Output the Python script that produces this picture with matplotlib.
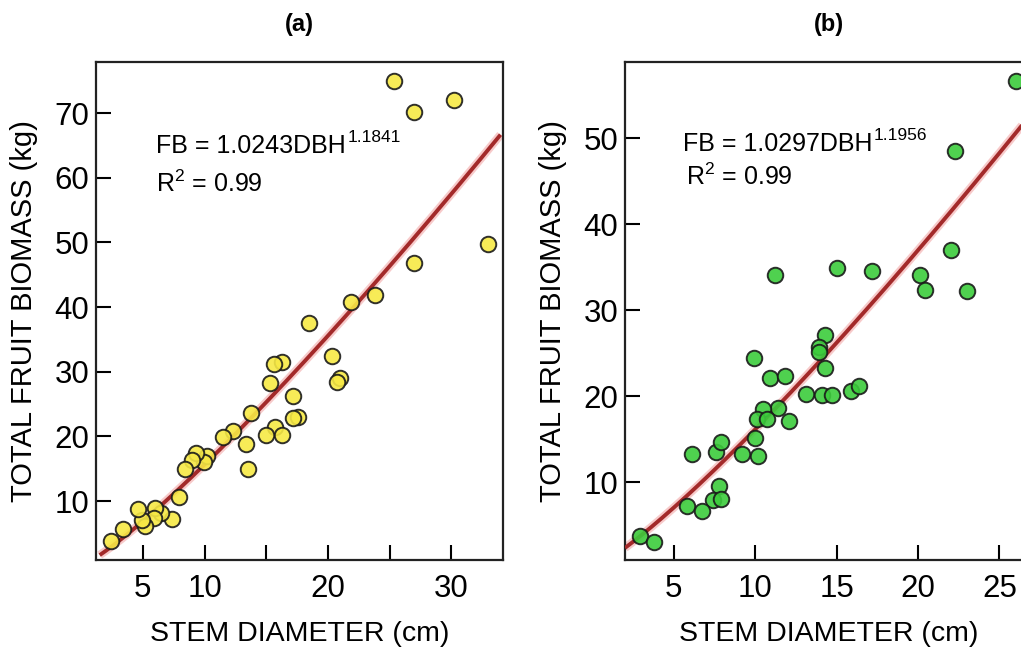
import numpy as np
import matplotlib
matplotlib.use("Agg")
import matplotlib.pyplot as plt

plt.rcParams['font.family'] = ['Liberation Sans', 'DejaVu Sans']
plt.rcParams['mathtext.default'] = 'regular'

# (a) yellow species: stem diameter (cm) vs total fruit biomass (kg)
dbh_a = [25.4, 27.0, 30.2, 33.0, 27.0, 23.8, 21.9, 18.5, 20.3, 21.0,
         20.7, 16.3, 15.6, 15.3, 17.2, 17.6, 17.2, 13.8, 15.7, 16.3,
         15.0, 13.4, 13.5, 12.3, 11.5, 10.2, 9.95, 9.3, 9.0, 8.4,
         7.9, 7.4, 6.5, 6.0, 5.9, 5.2, 4.9, 4.6, 3.4, 2.4]
fb_a = [74.9, 70.2, 72.0, 49.8, 46.8, 41.8, 40.8, 37.6, 32.5, 29.1,
        28.4, 31.5, 31.2, 28.3, 26.2, 23.0, 22.8, 23.7, 21.5, 20.3,
        20.3, 18.8, 14.9, 20.9, 19.9, 17.0, 16.1, 17.4, 16.3, 15.0,
        10.6, 7.3, 8.1, 9.0, 7.4, 6.2, 7.1, 8.8, 5.7, 3.9]

# (b) green species
dbh_b = [26.0, 22.3, 22.0, 20.1, 20.4, 23.0, 17.2, 15.0, 11.2, 14.3,
         13.9, 13.9, 14.3, 9.9, 10.9, 11.8, 13.1, 14.1, 14.7, 15.9,
         16.4, 11.4, 10.5, 10.1, 10.7, 12.1, 10.0, 10.2, 9.2, 6.1,
         7.6, 7.9, 7.8, 7.4, 7.9, 5.8, 6.7, 2.9, 3.8]
fb_b = [56.7, 48.5, 37.0, 34.1, 32.4, 32.2, 34.6, 34.9, 34.1, 27.1,
        25.7, 25.1, 23.3, 24.5, 22.1, 22.4, 20.3, 20.2, 20.2, 20.6,
        21.2, 18.6, 18.5, 17.4, 17.4, 17.1, 15.1, 13.0, 13.3, 13.3,
        13.5, 14.7, 9.6, 7.95, 8.0, 7.2, 6.6, 3.7, 3.1]

# power-law fits FB = a * DBH^b
coef_a, expo_a = 1.0243, 1.1841
coef_b, expo_b = 1.0297, 1.1956
r2_a, r2_b = 0.99, 0.99

fig = plt.figure(figsize=(10.21, 6.48), dpi=100)
W, H = 1021, 648


def panel(left_px, dbh, fb, coef, expo, r2, color, xlim, ylim,
          xticks, xticklabels, yticks, fit_range, eq_xy, r2_xy, title):
    ax = fig.add_axes([left_px / W, 1 - 560 / H, 407 / W, 498 / H])
    x = np.linspace(fit_range[0], fit_range[1], 200)
    y = coef * x ** expo
    ax.plot(x, y, color='#f2a0a0', lw=6, alpha=0.55, zorder=2,
            solid_capstyle='butt')
    ax.plot(x, y, color='#a32a2a', lw=2.8, zorder=3, solid_capstyle='butt')
    ax.scatter(dbh, fb, s=125, c=color, edgecolors='#1a1a1a',
               linewidths=1.4, alpha=0.9, zorder=4)
    ax.set_xlim(*xlim)
    ax.set_ylim(*ylim)
    ax.set_xticks(xticks)
    ax.set_xticklabels(xticklabels)
    ax.set_yticks(yticks)
    ax.tick_params(direction='in', length=11, width=1.5, labelsize=22.5)
    ax.tick_params(axis='x', pad=10)
    ax.tick_params(axis='y', pad=5)
    for sp in ax.spines.values():
        sp.set_linewidth(1.6)
        sp.set_color('#222222')
    ax.set_xlabel('STEM DIAMETER (cm)', fontsize=20.5)
    ax.set_ylabel('TOTAL FRUIT BIOMASS (kg)', fontsize=21)
    ax.xaxis.set_label_coords(0.5, -0.122)
    ax.yaxis.set_label_coords(-0.142, 0.5)
    # fitted equation, exponent placed just after "DBH"
    t = ax.text(eq_xy[0], eq_xy[1], f'FB = {coef:.4f}DBH',
                fontsize=18, va='baseline', ha='left')
    ax.annotate(f'{expo:.4f}', xy=(1, 1), xycoords=t, xytext=(1, 3),
                textcoords='offset points', fontsize=12.5,
                va='top', ha='left')
    ax.text(r2_xy[0], r2_xy[1], f'R$^{{2}}$ = {r2:.2f}',
            fontsize=18, va='baseline', ha='left')
    fig.text((left_px + 203.5) / W, 1 - 25 / H, title, fontsize=17,
             fontweight='bold', ha='center', va='center')
    return ax


panel(96, dbh_a, fb_a, coef_a, expo_a, r2_a, '#f7e945',
      (1.2, 34.2), (0.9, 77.9), [5, 10, 15, 20, 25, 30],
      ['5', '10', '', '20', '', '30'], [10, 20, 30, 40, 50, 60, 70],
      (1.5, 34.0), (6.1, 63.8), (6.1, 57.8), '(a)')

panel(625, dbh_b, fb_b, coef_b, expo_b, r2_b, '#3ccc3c',
      (2.0, 27.0), (0.95, 58.9), [5, 10, 15, 20, 25],
      ['5', '10', '15', '20', '25'], [10, 20, 30, 40, 50],
      (2.0, 27.0), (5.55, 48.5), (5.76, 44.6), '(b)')

fig.savefig('out.png', dpi=100)
